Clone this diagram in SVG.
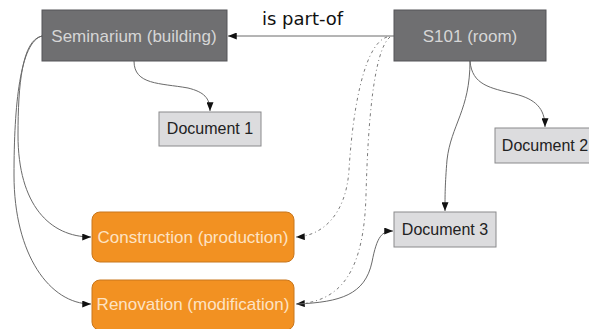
<svg xmlns="http://www.w3.org/2000/svg" width="589" height="329" viewBox="0 0 589 329">
  <style>
    .dark rect { fill: #6f6f71; stroke: #555558; stroke-width: 1; }
    .dark text { fill: #d6d6d6; font-family: "Liberation Sans", Arial, sans-serif; font-size: 17px; text-anchor: middle; }
    .doc rect { fill: #dcdcde; stroke: #8a8a8c; stroke-width: 1; }
    .doc text { fill: #222; font-family: "Liberation Sans", Arial, sans-serif; font-size: 16px; text-anchor: middle; }
    .act rect { fill: #f29122; stroke: #c8761c; stroke-width: 1; }
    .act text { fill: #fde3c4; font-family: "Liberation Sans", Arial, sans-serif; font-size: 17px; text-anchor: middle; }
    .edge { fill: none; stroke: #6a6a6a; stroke-width: 1; }
    .dotted { fill: none; stroke: #7a7a7a; stroke-width: 1; stroke-dasharray: 3 3 1 3; }
    .label { fill: #111; font-family: "DejaVu Sans", Verdana, sans-serif; font-size: 18px; }
  </style>
  <defs>
    <marker id="arrow" viewBox="0 0 10 8" refX="10" refY="4" markerWidth="9" markerHeight="7" markerUnits="userSpaceOnUse" orient="auto">
      <path d="M0,0 L10,4 L0,8 Z" fill="#111"/>
    </marker>
  </defs>

  <g id="connectors">
    <!-- S101 is part-of Seminarium -->
    <path class="edge" d="M394,36 L228,36" marker-end="url(#arrow)"/>
    <text class="label" x="262" y="25">is part-of</text>
    <!-- Seminarium to Document 1 -->
    <path class="edge" d="M134,61 C134,85 160,83 188,88 C204,92 210,98 210,111" marker-end="url(#arrow)"/>
    <!-- Seminarium to the two activities -->
    <path class="edge" d="M42,36 C22,40 18,85 18,135 C18,205 50,237 91,237" marker-end="url(#arrow)"/>
    <path class="edge" d="M42,36 C20,42 14,105 14,175 C14,255 50,304 91,304" marker-end="url(#arrow)"/>
    <!-- S101 dotted links to the activities -->
    <path class="dotted" d="M387,37 C362,45 352,120 349,170 C346,215 322,236 296,237" marker-end="url(#arrow)"/>
    <path class="dotted" d="M390,37 C374,50 368,120 366,195 C364,270 342,302 296,304" marker-end="url(#arrow)"/>
    <!-- S101 to Document 2 and Document 3 -->
    <path class="edge" d="M470,61 C472,85 490,88 515,94 C535,99 545,108 545,127" marker-end="url(#arrow)"/>
    <path class="edge" d="M470,61 C470,110 451,125 447,160 C445,185 445,195 445,211" marker-end="url(#arrow)"/>
    <!-- Renovation to Document 3 -->
    <path class="edge" d="M298,304 C340,302 365,295 372,262 C377,236 382,231 393,231" marker-end="url(#arrow)"/>
  </g>

  <g id="seminarium" class="dark">
    <rect x="42" y="10" width="185" height="51"/>
    <text x="134" y="42">Seminarium (building)</text>
  </g>
  <g id="s101" class="dark">
    <rect x="394" y="10" width="152" height="51"/>
    <text x="470" y="42">S101 (room)</text>
  </g>
  <g id="document1" class="doc">
    <rect x="159" y="112" width="102" height="34"/>
    <text x="210" y="134">Document 1</text>
  </g>
  <g id="document2" class="doc">
    <rect x="495" y="128" width="100" height="35"/>
    <text x="545" y="151">Document 2</text>
  </g>
  <g id="document3" class="doc">
    <rect x="394" y="212" width="102" height="35"/>
    <text x="445" y="235">Document 3</text>
  </g>
  <g id="construction" class="act">
    <rect x="92" y="212" width="202" height="50" rx="8" ry="8"/>
    <text x="193" y="243">Construction (production)</text>
  </g>
  <g id="renovation" class="act">
    <rect x="92" y="280" width="202" height="50" rx="8" ry="8"/>
    <text x="193" y="310">Renovation (modification)</text>
  </g>
</svg>
